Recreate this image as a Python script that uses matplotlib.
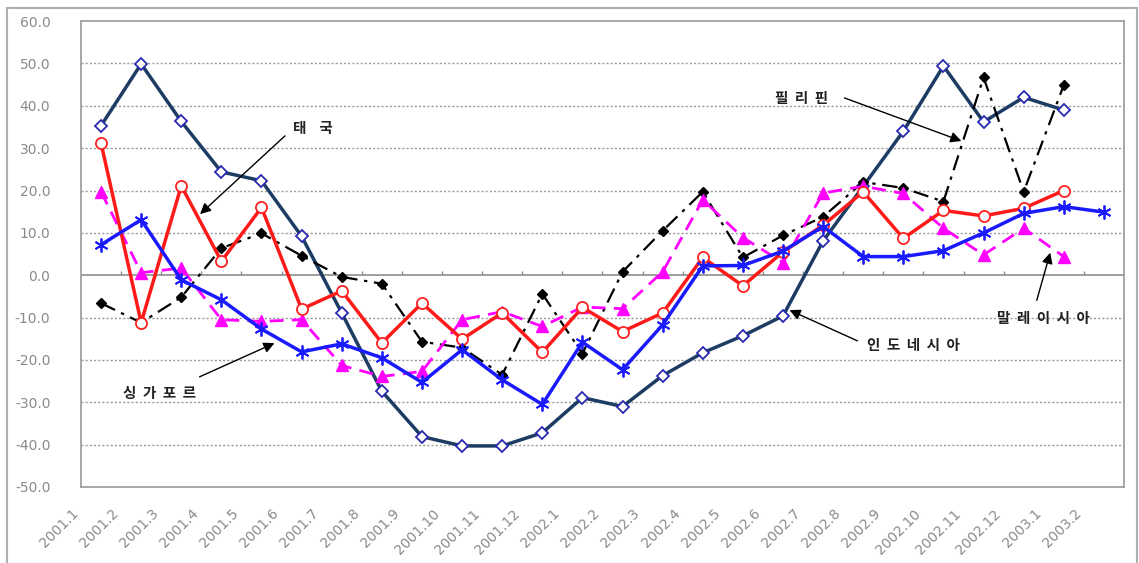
import numpy as np
import matplotlib
matplotlib.use("Agg")
import matplotlib.pyplot as plt
import matplotlib.transforms as mtransforms
from matplotlib.patches import Rectangle

plt.rcParams['font.family'] = ['Noto Sans CJK KR', 'DejaVu Sans']

months = ["2001.1", "2001.2", "2001.3", "2001.4", "2001.5", "2001.6", "2001.7",
          "2001.8", "2001.9", "2001.10", "2001.11", "2001.12", "2002.1", "2002.2",
          "2002.3", "2002.4", "2002.5", "2002.6", "2002.7", "2002.8", "2002.9",
          "2002.10", "2002.11", "2002.12", "2003.1", "2003.2"]

# 인도네시아
indonesia = [35.3, 49.9, 36.3, 24.4, 22.3, 9.2, -8.9, -27.4, -38.1, -40.3, -40.3,
             -37.2, -28.9, -31.0, -23.7, -18.3, -14.3, -9.6, 8.1, 21.0, 34.0,
             49.4, 36.2, 42.0, 39.0, np.nan]
# 태국
thailand = [31.2, -11.2, 21.1, 3.3, 16.0, -8.0, -3.7, -16.0, -6.6, -15.1, -8.9,
            -18.2, -7.6, -13.3, -8.9, 4.2, -2.5, 5.5, 11.8, 19.7, 8.7, 15.3,
            14.0, 15.8, 20.0, np.nan]
# 싱가포르
singapore = [7.2, 13.1, -1.1, -5.8, -12.7, -18.1, -16.2, -19.5, -25.3, -17.6,
             -24.7, -30.5, -15.8, -22.3, -11.7, 2.2, 2.3, 5.7, 11.5, 4.4, 4.4,
             5.8, 10.0, 14.6, 16.2, 14.9]
# 말레이시아
malaysia = [19.7, 0.6, 1.7, -10.5, -10.9, -10.5, -21.3, -23.9, -22.7, -10.5,
            -8.6, -12.1, -7.5, -7.9, 0.8, 17.8, 8.9, 3.0, 19.4, 21.0, 19.3,
            11.1, 4.8, 11.1, 4.4, np.nan]
# 필리핀
philippines = [-6.6, -11.2, -5.2, 6.4, 9.9, 4.6, -0.4, -2.0, -15.7, -17.1,
               -23.5, -4.4, -18.5, 0.8, 10.5, 19.7, 4.2, 9.4, 13.8, 22.0, 20.6,
               17.4, 46.7, 19.7, 44.9, np.nan]

x = np.arange(len(months))

fig = plt.figure(figsize=(11.39, 5.63), dpi=100)
fig.patches.append(Rectangle((0.006, -0.01), 0.992, 0.996, transform=fig.transFigure,
                             fill=False, edgecolor='#b0b0b0', linewidth=1.5))
ax = fig.add_axes([0.0711, 0.135, 0.9157, 0.8275])

ax.set_xlim(-0.5, len(months) - 0.5)
ax.set_ylim(-50, 60)

for v in range(-40, 60, 10):
    if v != 0:
        ax.axhline(v, color='#9a9a9a', linestyle=(0, (1.5, 1.5)), linewidth=1, zorder=0)
ax.axhline(0, color='#8c8c8c', linewidth=1.2, zorder=1)
ax.vlines(x[:-1] + 0.5, 0, 1.0, color='#8c8c8c', linewidth=1, zorder=1)

ax.plot(x, indonesia, color='#1c3c64', linewidth=2.5, marker='D', markersize=6,
        markerfacecolor='white', markeredgecolor='#2a2ab0', markeredgewidth=1.3, zorder=3)
ax.plot(x, philippines, color='black', linewidth=1.6, linestyle=(0, (7, 3, 1.5, 3)),
        marker='D', markersize=5, markerfacecolor='black', markeredgecolor='black', zorder=4)
ax.plot(x, malaysia, color='#ff00ff', linewidth=2, linestyle=(0, (5, 3)),
        marker='^', markersize=8, markerfacecolor='#ff00ff', markeredgecolor='#ff00ff', zorder=4)
ax.plot(x, thailand, color='#ff1a1a', linewidth=2.5, marker='o', markersize=8,
        markerfacecolor='white', markeredgecolor='#ff2020', markeredgewidth=1.3, zorder=5)
ax.plot(x, singapore, color='#1a1aff', linewidth=2.5, marker=(6, 2, 0), markersize=10,
        markeredgecolor='#1a1aff', markeredgewidth=1.3, zorder=5)

ax.set_yticks(np.arange(-50, 61, 10))
ax.set_yticklabels(["%.1f" % v for v in np.arange(-50, 61, 10)],
                   family='DejaVu Sans', fontsize=10, color='#8a8a8a')
ax.tick_params(axis='y', length=0, pad=22)
ax.set_xticks(x)
ax.set_xticklabels(months, rotation=45, ha='right', family='DejaVu Sans',
                   fontsize=10, color='#8a8a8a')
ax.tick_params(axis='x', length=0, pad=14)
shift = mtransforms.ScaledTranslation(-20 / 100, 0, fig.dpi_scale_trans)
for lab in ax.get_xticklabels():
    lab.set_transform(lab.get_transform() + shift)

for s in ax.spines.values():
    s.set_color('#a0a0a0')
    s.set_linewidth(1.3)

arrow = dict(arrowstyle='-|>', color='black', linewidth=1, mutation_scale=16)

fig.canvas.draw()
inv = ax.transData.inverted()
def px(pt):
    return inv.transform((pt[0], 563 - pt[1]))

labels = [("태    국", (293, 128), (287, 134), (198, 216)),
          ("싱  가  포  르", (123, 393), (197, 378), (277, 342)),
          ("필  리  핀", (775, 98), (842, 97), (964, 142)),
          ("인  도  네  시  아", (867, 345), (860, 342), (787, 309)),
          ("말  레  이  시  아", (997, 318), (1036, 303), (1051, 250))]
for text, tpos, start, end in labels:
    ax.text(*px(tpos), text, fontsize=10.5, fontweight='bold', color='#222222',
            ha='left', va='center', zorder=6)
    ax.annotate("", xy=px(end), xytext=px(start), arrowprops=arrow, zorder=6)

fig.savefig("out.png", dpi=100)
